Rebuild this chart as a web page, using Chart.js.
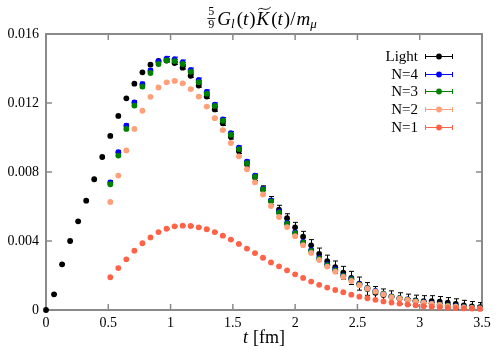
<!DOCTYPE html>
<html>
<head>
<meta charset="utf-8">
<script src="https://cdn.jsdelivr.net/npm/chart.js@4"></script>
<style>
  body { margin: 0; background: #fff; }
  canvas { display: block; }
</style>
</head>
<body>
<canvas id="chart" width="500" height="350"></canvas>
<script>
// Euclidean times in fm (lattice points)
const times = [0, 0.0645, 0.129, 0.1935, 0.258, 0.3225, 0.387, 0.4515, 0.516, 0.5805,
    0.645, 0.7095, 0.774, 0.8385, 0.903, 0.9675, 1.032, 1.0965, 1.161, 1.2255,
    1.29, 1.3545, 1.419, 1.4835, 1.548, 1.6125, 1.677, 1.7415, 1.806, 1.8705,
    1.935, 1.9995, 2.064, 2.1285, 2.193, 2.2575, 2.322, 2.3865, 2.451, 2.5155,
    2.58, 2.6445, 2.709, 2.7735, 2.838, 2.9025, 2.967, 3.0315, 3.096, 3.1605,
    3.225, 3.2895, 3.354, 3.4185, 3.483];

// the N=1..4 series start at the 9th time slice
const firstNIndex = 8;

const light = [0, 0.00091, 0.00265, 0.0040, 0.00514, 0.00634, 0.00758, 0.00887, 0.01009, 0.01125,
    0.01227, 0.01312, 0.01378, 0.01422, 0.01444, 0.01446, 0.01432, 0.01405, 0.01358, 0.01301,
    0.01237, 0.01163, 0.01082, 0.01004, 0.00922, 0.00846, 0.00769, 0.00698, 0.00634, 0.00582,
    0.00532, 0.00479, 0.00425, 0.00375, 0.00325, 0.00283, 0.00248, 0.00216, 0.00186, 0.00153,
    0.00122, 0.00100, 0.00087, 0.00077, 0.00067, 0.00060, 0.00055, 0.00052, 0.00052, 0.00048,
    0.00042, 0.00035, 0.00027, 0.00021, 0.00016];
const lightErr = [0.00002, 0.00002, 0.00003, 0.00003, 0.00003, 0.00004, 0.00004, 0.00004, 0.00005, 0.00005,
    0.00005, 0.00006, 0.00006, 0.00006, 0.00007, 0.00008, 0.00008, 0.00008, 0.00009, 0.00009,
    0.0001, 0.00011, 0.00012, 0.00013, 0.00015, 0.00017, 0.00019, 0.00022, 0.00024, 0.00025,
    0.00026, 0.00029, 0.00031, 0.00033, 0.00034, 0.00035, 0.00036, 0.00037, 0.00038, 0.00038,
    0.00037, 0.00036, 0.00035, 0.00034, 0.00033, 0.00032, 0.00031, 0.00031, 0.00031, 0.0003,
    0.0003, 0.0003, 0.00029, 0.00028, 0.00027];

const n4 = [0.0074, 0.00915, 0.01068, 0.01203, 0.01309, 0.01387, 0.0144, 0.01457, 0.01453, 0.01436,
    0.01391, 0.01333, 0.01264, 0.0119, 0.01105, 0.01025, 0.00941, 0.0086, 0.00779, 0.00704,
    0.00636, 0.0057, 0.00505, 0.0045, 0.00395, 0.00347, 0.00302, 0.00265, 0.00235, 0.002,
    0.0018, 0.0015, 0.00128, 0.00111, 0.00095, 0.00079, 0.00069, 0.00061, 0.00052, 0.00045,
    0.00038, 0.00032, 0.00026, 0.00022, 0.00018, 0.00014, 0.00012];
const n4Err = [0.0001, 0.0001, 0.00011, 0.00011, 0.00012, 0.00012, 0.00013, 0.00013, 0.00013, 0.00013,
    0.00012, 0.00012, 0.00012, 0.00011, 0.00011, 0.0001, 0.0001, 0.0001, 0.00009, 0.00009,
    0.00008, 0.00008, 0.00008, 0.00007, 0.00007, 0.00007, 0.00006, 0.00006, 0.00006, 0.00005,
    0.00005, 0.00005, 0.00005, 0.00004, 0.00004, 0.00004, 0.00004, 0.00004, 0.00003, 0.00003,
    0.00003, 0.00003, 0.00003, 0.00003, 0.00003, 0.00003, 0.00003];

const n3 = [0.00729, 0.00895, 0.0105, 0.01185, 0.01295, 0.01374, 0.01426, 0.01447, 0.01443, 0.01426,
    0.01381, 0.01321, 0.01254, 0.01183, 0.01097, 0.01016, 0.00933, 0.00852, 0.00773, 0.00699,
    0.0063, 0.00564, 0.005, 0.00445, 0.0039, 0.00342, 0.00297, 0.0026, 0.0023, 0.00197,
    0.00177, 0.00147, 0.00126, 0.00108, 0.00093, 0.00077, 0.00068, 0.0006, 0.00051, 0.00044,
    0.00037, 0.00031, 0.00025, 0.00021, 0.00017, 0.00013, 0.00011];
const n3Err = [0.00007, 0.00007, 0.00008, 0.00008, 0.00008, 0.00009, 0.00009, 0.00009, 0.00009, 0.00009,
    0.00009, 0.00008, 0.00008, 0.00008, 0.00008, 0.00007, 0.00007, 0.00007, 0.00007, 0.00006,
    0.00006, 0.00006, 0.00005, 0.00005, 0.00005, 0.00005, 0.00004, 0.00004, 0.00004, 0.00004,
    0.00004, 0.00003, 0.00003, 0.00003, 0.00003, 0.00003, 0.00003, 0.00002, 0.00002, 0.00002,
    0.00002, 0.00002, 0.00002, 0.00002, 0.00002, 0.00002, 0.00002];

const n2 = [0.00626, 0.00779, 0.00925, 0.0105, 0.01155, 0.01236, 0.0129, 0.0132, 0.01328, 0.01314,
    0.01281, 0.01237, 0.01179, 0.01112, 0.01043, 0.00968, 0.00891, 0.00816, 0.0074, 0.0067,
    0.00603, 0.00539, 0.00481, 0.00428, 0.00376, 0.00331, 0.0029, 0.00252, 0.00222, 0.00192,
    0.00168, 0.00144, 0.00124, 0.00107, 0.00091, 0.00075, 0.00066, 0.00058, 0.00049, 0.00042,
    0.00035, 0.00029, 0.00023, 0.00019, 0.00015, 0.00012, 0.0001];
const n2Err = [0.00004, 0.00004, 0.00004, 0.00004, 0.00005, 0.00005, 0.00005, 0.00005, 0.00005, 0.00005,
    0.00005, 0.00005, 0.00005, 0.00005, 0.00004, 0.00004, 0.00004, 0.00004, 0.00004, 0.00004,
    0.00003, 0.00003, 0.00003, 0.00003, 0.00003, 0.00003, 0.00003, 0.00002, 0.00002, 0.00002,
    0.00002, 0.00002, 0.00002, 0.00002, 0.00002, 0.00002, 0.00002, 0.00002, 0.00001, 0.00001,
    0.00001, 0.00001, 0.00001, 0.00001, 0.00001, 0.00001, 0.00001];

const n1 = [0.0019, 0.00243, 0.00294, 0.00344, 0.00387, 0.00421, 0.00452, 0.00471, 0.00485, 0.00489,
    0.00487, 0.00479, 0.00468, 0.00452, 0.00431, 0.00408, 0.00383, 0.00356, 0.0033, 0.00303,
    0.00276, 0.00253, 0.0023, 0.00207, 0.00186, 0.00165, 0.00146, 0.0013, 0.00116, 0.00103,
    0.00089, 0.00077, 0.00068, 0.00059, 0.0005, 0.00043, 0.00037, 0.00032, 0.00027, 0.00022,
    0.00019, 0.00016, 0.00013, 0.00011, 0.00009, 0.00008, 0.00006];
const n1Err = [0.00002, 0.00002, 0.00002, 0.00002, 0.00002, 0.00002, 0.00002, 0.00002, 0.00002, 0.00002,
    0.00002, 0.00002, 0.00002, 0.00002, 0.00002, 0.00002, 0.00002, 0.00002, 0.00002, 0.00002,
    0.00001, 0.00001, 0.00001, 0.00001, 0.00001, 0.00001, 0.00001, 0.00001, 0.00001, 0.00001,
    0.00001, 0.00001, 0.00001, 0.00001, 0.00001, 0.00001, 0.00001, 0.00001, 0.00001, 0.00001,
    0.00001, 0.00001, 0.00001, 0.00001, 0.00001, 0.00001, 0.00001];

const seriesNames = ['Light', 'N=4', 'N=3', 'N=2', 'N=1'];
const seriesColors = ['#000000', '#0000ff', '#008000', '#ffa07a', '#ff6347'];

const xTickValues = [0, 0.5, 1, 1.5, 2, 2.5, 3, 3.5];
const xTickLabels = ['0', '0.5', '1', '1.5', '2', '2.5', '3', '3.5'];
const yTickValues = [0, 0.004, 0.008, 0.012, 0.016];
const yTickLabels = ['0', '0.004', '0.008', '0.012', '0.016'];

const serif = '"Liberation Serif", "DejaVu Serif", serif';
const frameColor = '#8a8a8a';

function makeDataset(idx, t, vals, errs) {
    return {
        label: seriesNames[idx],
        data: t.map((x, i) => ({ x: x, y: vals[i] })),
        errors: errs,
        backgroundColor: seriesColors[idx],
        borderColor: seriesColors[idx],
        borderWidth: 0,
        pointRadius: 2.9,
        pointHoverRadius: 2.9,
        showLine: false,
        clip: false,
        // Light at the bottom, N=1 on top
        order: 4 - idx
    };
}

const nTimes = times.slice(firstNIndex);
const datasets = [
    makeDataset(0, times, light, lightErr),
    makeDataset(1, nTimes, n4, n4Err),
    makeDataset(2, nTimes, n3, n3Err),
    makeDataset(3, nTimes, n2, n2Err),
    makeDataset(4, nTimes, n1, n1Err)
];

// vertical error bars with small caps, drawn just before each dataset's points
const errorBarPlugin = {
    id: 'errorBars',
    beforeDatasetDraw(chart, args) {
        const ds = chart.data.datasets[args.index];
        if (!ds.errors) return;
        const { ctx, chartArea, scales } = chart;
        ctx.save();
        ctx.beginPath();
        ctx.rect(chartArea.left, chartArea.top, chartArea.right - chartArea.left, chartArea.bottom - chartArea.top);
        ctx.clip();
        ctx.strokeStyle = ds.borderColor;
        ctx.lineWidth = 1;
        args.meta.data.forEach((pt, i) => {
            const v = ds.data[i].y;
            const e = ds.errors[i];
            const top = scales.y.getPixelForValue(v + e);
            const bot = scales.y.getPixelForValue(v - e);
            const x = Math.round(pt.x) + 0.5;
            ctx.beginPath();
            ctx.moveTo(x, top);
            ctx.lineTo(x, bot);
            ctx.moveTo(x - 2.5, top);
            ctx.lineTo(x + 2.5, top);
            ctx.moveTo(x - 2.5, bot);
            ctx.lineTo(x + 2.5, bot);
            ctx.stroke();
        });
        ctx.restore();
    }
};

// grey box with inward ticks on all four sides
const framePlugin = {
    id: 'frame',
    beforeDatasetsDraw(chart) {
        const { ctx, chartArea: a, scales } = chart;
        ctx.save();
        ctx.strokeStyle = frameColor;
        ctx.lineWidth = 1.5;
        const tick = 6;
        ctx.beginPath();
        xTickValues.forEach(v => {
            const x = scales.x.getPixelForValue(v);
            ctx.moveTo(x, a.bottom); ctx.lineTo(x, a.bottom - tick);
            ctx.moveTo(x, a.top); ctx.lineTo(x, a.top + tick);
        });
        yTickValues.forEach(v => {
            const y = scales.y.getPixelForValue(v);
            ctx.moveTo(a.left, y); ctx.lineTo(a.left + tick, y);
            ctx.moveTo(a.right, y); ctx.lineTo(a.right - tick, y);
        });
        ctx.stroke();
        ctx.lineWidth = 2;
        ctx.strokeRect(a.left, a.top, a.right - a.left, a.bottom - a.top);
        ctx.restore();
    }
};

// draws runs of text (italic / subscript pieces) centred on cx
function drawRuns(ctx, runs, cx, baseline) {
    const fontOf = r => (r.it ? 'italic ' : '') + r.size + 'px ' + serif;
    let total = 0;
    runs.forEach(r => {
        if (r.frac) {
            ctx.font = r.size + 'px ' + serif;
            r.w = Math.max(ctx.measureText(r.frac[0]).width, ctx.measureText(r.frac[1]).width) + 2;
        } else {
            ctx.font = fontOf(r);
            r.w = ctx.measureText(r.t).width;
        }
        total += r.w + (r.gap || 0);
    });
    let x = cx - total / 2;
    ctx.fillStyle = '#000';
    ctx.textBaseline = 'alphabetic';
    runs.forEach(r => {
        if (r.frac) {
            ctx.font = r.size + 'px ' + serif;
            ctx.textAlign = 'center';
            ctx.fillText(r.frac[0], x + r.w / 2, baseline - 10);
            ctx.fillText(r.frac[1], x + r.w / 2, baseline + 3);
            ctx.fillRect(x, baseline - 7, r.w, 0.8);
        } else {
            ctx.font = fontOf(r);
            ctx.textAlign = 'left';
            ctx.fillText(r.t, x, baseline + (r.dy || 0));
            if (r.tilde) {
                // wide tilde above the letter
                ctx.save();
                ctx.strokeStyle = '#000';
                ctx.lineWidth = 0.9;
                const y0 = baseline - r.size * 0.86;
                const x0 = x + 1.5, x1 = x + r.w + 1.5;
                ctx.beginPath();
                ctx.moveTo(x0, y0 + 1);
                ctx.bezierCurveTo(x0 + (x1 - x0) * 0.3, y0 - 3, x0 + (x1 - x0) * 0.5, y0 + 4, x1, y0 - 1.5);
                ctx.stroke();
                ctx.restore();
            }
        }
        x += r.w + (r.gap || 0);
    });
}

const textPlugin = {
    id: 'texts',
    afterDraw(chart) {
        const { ctx, chartArea: a } = chart;
        const cx = (a.left + a.right) / 2;
        ctx.save();
        // title: 5/9 G_l(t) K~(t) / m_mu
        drawRuns(ctx, [
            { frac: ['5', '9'], size: 12, gap: 2 },
            { t: 'G', it: true, size: 19 },
            { t: 'l', it: true, size: 13, dy: 3, gap: 2 },
            { t: '(', size: 19 },
            { t: 't', it: true, size: 19, gap: 1 },
            { t: ')', size: 19, gap: 1 },
            { t: 'K', it: true, size: 19, tilde: true, gap: 2 },
            { t: '(', size: 19 },
            { t: 't', it: true, size: 19, gap: 1 },
            { t: ')', size: 19 },
            { t: '/', size: 19, gap: 1 },
            { t: 'm', it: true, size: 19 },
            { t: 'μ', it: true, size: 13, dy: 3 }
        ], cx - 2, 25);
        // x axis label
        drawRuns(ctx, [
            { t: 't', it: true, size: 18, gap: 5 },
            { t: '[fm]', size: 18 }
        ], cx, 343);

        // legend, text right aligned then error bar symbol
        ctx.font = '15px ' + serif;
        ctx.textAlign = 'right';
        ctx.textBaseline = 'middle';
        seriesNames.forEach((name, i) => {
            const y = Math.round(56 + i * 17.7) + 0.5;
            ctx.fillStyle = '#000';
            ctx.fillText(name, 418, y + 1);
            ctx.strokeStyle = seriesColors[i];
            ctx.lineWidth = 1;
            ctx.beginPath();
            ctx.moveTo(425, y); ctx.lineTo(453, y);
            ctx.moveTo(425.5, y - 2.5); ctx.lineTo(425.5, y + 2.5);
            ctx.moveTo(452.5, y - 2.5); ctx.lineTo(452.5, y + 2.5);
            ctx.stroke();
            ctx.fillStyle = seriesColors[i];
            ctx.beginPath();
            ctx.arc(439, y, 2.9, 0, Math.PI * 2);
            ctx.fill();
        });
        ctx.restore();
    }
};

const ctx = document.getElementById('chart').getContext('2d');
const chart = new Chart(ctx, {
    type: 'scatter',
    data: { datasets: datasets },
    options: {
        responsive: false,
        animation: false,
        events: [],
        layout: { padding: { top: 34, right: 18, left: 0, bottom: 0 } },
        plugins: {
            legend: { display: false },
            tooltip: { enabled: false },
            title: { display: false }
        },
        scales: {
            x: {
                type: 'linear',
                min: 0,
                max: 3.5,
                grid: { display: false, drawTicks: false },
                border: { display: false },
                afterBuildTicks: scale => { scale.ticks = xTickValues.map(v => ({ value: v })); },
                afterFit: scale => { scale.height = 40; },
                ticks: {
                    padding: 5,
                    color: '#000',
                    maxRotation: 0,
                    font: { family: serif, size: 14 },
                    callback: (v, i) => xTickLabels[i]
                }
            },
            y: {
                type: 'linear',
                min: 0,
                max: 0.016,
                grid: { display: false, drawTicks: false },
                border: { display: false },
                afterBuildTicks: scale => { scale.ticks = yTickValues.map(v => ({ value: v })); },
                afterFit: scale => { scale.width = 46; },
                ticks: {
                    padding: 7,
                    color: '#000',
                    font: { family: serif, size: 14 },
                    callback: (v, i) => yTickLabels[i]
                }
            }
        }
    },
    plugins: [framePlugin, errorBarPlugin, textPlugin]
});
</script>
</body>
</html>
